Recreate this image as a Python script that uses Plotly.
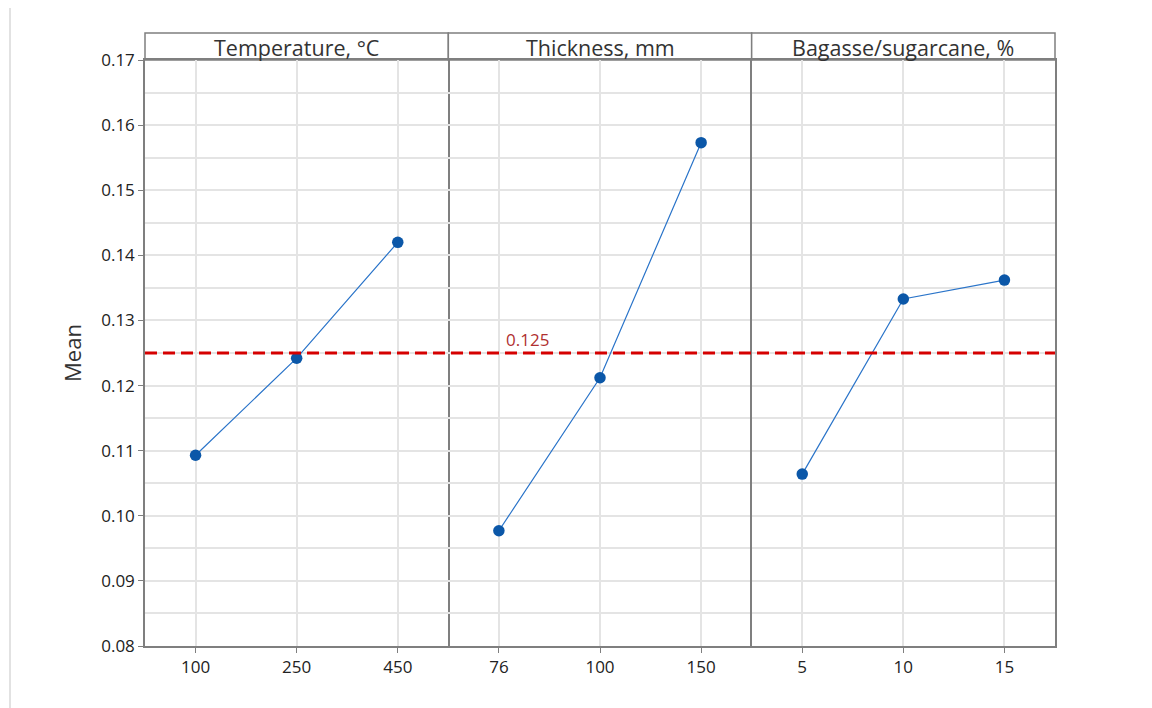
import plotly.graph_objects as go
from plotly.subplots import make_subplots

factors = ["Temperature, °C", "Thickness, mm", "Bagasse/sugarcane, %"]
levels = [["100", "250", "450"], ["76", "100", "150"], ["5", "10", "15"]]
means = [[0.1093, 0.1242, 0.1420], [0.0977, 0.1212, 0.1573], [0.1064, 0.1333, 0.1362]]
grand_mean = 0.125
y_ticks = [0.08, 0.09, 0.10, 0.11, 0.12, 0.13, 0.14, 0.15, 0.16, 0.17]

FONT = "Open Sans"
AXIS = "#7f7f7f"
GRID = "#e4e4e4"
TICKF = dict(family=FONT, size=17, color="#222222")

fig = make_subplots(rows=1, cols=3, shared_yaxes=True, horizontal_spacing=0)

for i in range(3):
    fig.add_trace(go.Scatter(
        x=levels[i], y=means[i], mode="lines+markers",
        line=dict(color="#2a74c9", width=1.2),
        marker=dict(color="#0b57a8", size=11.5),
        showlegend=False, hoverinfo="x+y"), row=1, col=i + 1)
    fig.update_xaxes(type="category", range=[-0.5, 2.5], showline=True, mirror=True,
                     linecolor=AXIS, linewidth=1.5, showgrid=True, gridcolor=GRID, gridwidth=1.5,
                     ticks="outside", ticklen=5, tickcolor=AXIS, zeroline=False,
                     tickfont=TICKF, row=1, col=i + 1)
    fig.update_yaxes(range=[0.08, 0.17], tickvals=y_ticks, tickformat=".2f",
                     showline=(i != 1), mirror=True, linecolor=AXIS, linewidth=1.5,
                     showgrid=True, gridcolor=GRID, gridwidth=1.5, zeroline=False,
                     minor=dict(dtick=0.005, tick0=0.08, showgrid=True, gridcolor=GRID, gridwidth=1.5),
                     tickfont=TICKF, row=1, col=i + 1)

fig.update_yaxes(ticks="outside", ticklen=5, tickcolor=AXIS, row=1, col=1)
fig.update_yaxes(title=dict(text="Mean", font=dict(family=FONT, size=22, color="#333333"), standoff=14),
                 row=1, col=1)

# grand mean reference line
fig.add_shape(type="line", xref="paper", yref="y", x0=0, x1=1, y0=grand_mean, y1=grand_mean,
              line=dict(color="#d50000", width=3, dash="12px,6px"), layer="above")
fig.add_annotation(x=0, xref="x2", y=grand_mean, yref="y", text=f"{grand_mean:.3f}",
                   showarrow=False, xanchor="left", yanchor="bottom", xshift=5, yshift=0,
                   font=dict(family=FONT, size=17, color="#b03030"))

# header strips
strip_h = 27 / 586
for i in range(3):
    x0, x1 = i / 3, (i + 1) / 3
    fig.add_shape(type="rect", xref="paper", yref="paper", x0=x0, x1=x1, y0=1, y1=1 + strip_h,
                  line=dict(color=AXIS, width=1.5), fillcolor="white", layer="below")
    fig.add_annotation(x=(x0 + x1) / 2, xref="paper", y=1 + strip_h / 2, yref="paper",
                       text=factors[i], showarrow=False, xanchor="center", yanchor="middle",
                       yshift=-1, font=dict(family=FONT, size=21.5, color="#333333"))

# left page border line
fig.add_shape(type="line", xref="paper", yref="paper", x0=-135 / 910, x1=-135 / 910,
              y0=-62 / 586, y1=638 / 586, line=dict(color="#e2e2e2", width=2))

fig.update_layout(width=1152, height=708, margin=dict(l=145, r=97, t=60, b=62),
                  plot_bgcolor="white", paper_bgcolor="white",
                  font=dict(family=FONT))

fig.write_html("out.html")
